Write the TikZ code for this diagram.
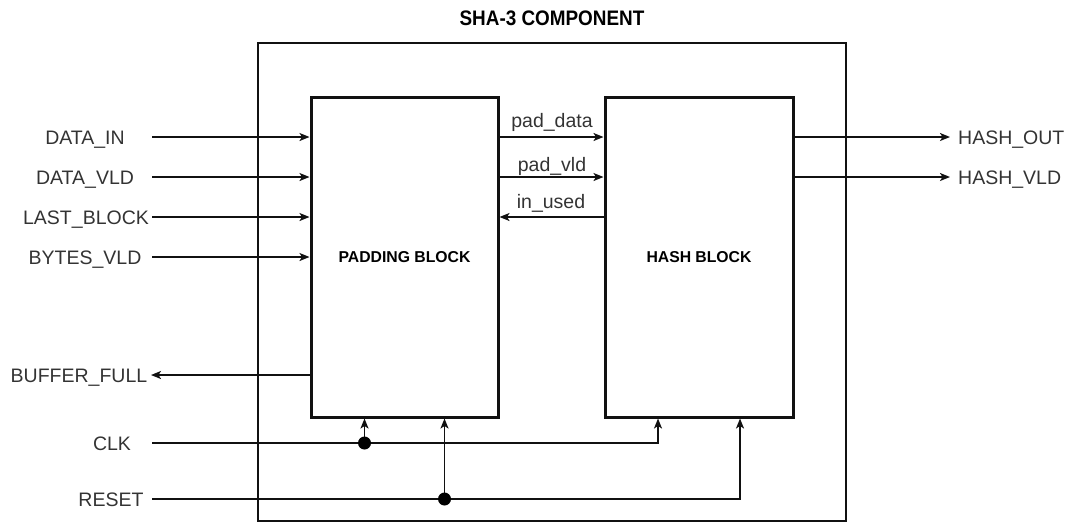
\documentclass[tikz,border=0pt]{standalone}
\usepackage{fontspec}
\setmainfont{Liberation Sans}
\usepackage{tikz}
\usepackage{xcolor}
\usetikzlibrary{
  positioning, arrows.meta, calc,
}
\definecolor{cText}{HTML}{333333}
\definecolor{cWire}{HTML}{111111}

\begin{document}
\begin{tikzpicture}[x=1pt, y=-1pt,
  blockbox/.style={draw=cWire, line width=3pt, minimum width=187pt, minimum height=320pt,
    font=\fontsize{15.75}{18}\selectfont\bfseries, inner sep=0pt},
  siglabel/.style={font=\fontsize{19.5}{22}\selectfont, text=cText, inner sep=0pt, anchor=base},
  wire/.style={line width=1.6pt, draw=cWire},
  sig/.style={wire, -{Stealth[length=10pt, width=8pt, inset=2.5pt]}},
  jdot/.style={circle, fill=black, inner sep=0pt, minimum size=13pt},
]
        \useasboundingbox (0,0) rectangle (1070,523);
        % component frame
        \node[draw=cWire, line width=2.5pt, minimum width=588pt, minimum height=478pt] (comp) at (552,282) {};
        \node[font=\fontsize{21}{24}\selectfont\bfseries, anchor=base] (title) at (552,25)
          {\scalebox{0.9}[1]{SHA-3 COMPONENT}};
        % blocks
        \node[blockbox] (pad) at (404.5,257) {PADDING BLOCK};
        \node[blockbox, minimum width=188pt] (hash) at (699,257) {HASH BLOCK};
        % inputs (left)
        \foreach \nm/\txt/\yy/\cx in {din/DATA\_IN/137/85, dvld/DATA\_VLD/177/85,
                                     last/LAST\_BLOCK/217/86, bvld/BYTES\_VLD/257/85} {
          \node[siglabel] (\nm) at (\cx,\yy+7) {\txt};
          \coordinate (\nm-w) at (152,\yy);
          \draw[sig] (\nm-w) -- (\nm-w -| pad.west);
        }
        \node[siglabel] (bfull) at (79,382) {BUFFER\_FULL};
        \coordinate (bfull-w) at (151,375);
        \draw[sig] (bfull-w -| pad.west) -- (bfull-w);
        % pad <-> hash
        \foreach \nm/\txt/\yy/\by in {pdata/pad\_data/137/127, pvld/pad\_vld/177/171} {
          \coordinate (\nm-y) at (552,\yy);
          \draw[sig] (\nm-y -| pad.east) -- (\nm-y -| hash.west);
          \node[siglabel] (\nm) at (552,\by) {\txt};
        }
        \coordinate (used-y) at (552,217);
        \draw[sig] (used-y -| hash.west) -- (used-y -| pad.east);
        \node[siglabel] (used) at (551,208) {in\_used};
        % outputs (right)
        \foreach \nm/\txt/\yy in {hout/HASH\_OUT/137, hvld/HASH\_VLD/177} {
          \node[siglabel, anchor=base west] (\nm) at (958,\yy+7) {\txt};
          \coordinate (\nm-e) at (950,\yy);
          \draw[sig] (\nm-e -| hash.east) -- (\nm-e);
        }
        % clock and reset
        \node[siglabel] (clk) at (112,450) {CLK};
        \node[siglabel] (rst) at (111,506) {RESET};
        \coordinate (clk-w) at (152,443);
        \coordinate (rst-w) at (152,499);
        \coordinate (clk-j) at ([xshift=-40pt]pad.south |- clk-w);
        \coordinate (rst-j) at ([xshift=40pt]pad.south |- rst-w);
        \draw[sig] (clk-w) -| ([xshift=-41pt]hash.south);
        \draw[sig] (rst-w) -| ([xshift=41pt]hash.south);
        \draw[sig] (clk-j) -- (clk-j |- pad.south);
        \draw[sig] (rst-j) -- (rst-j |- pad.south);
        \node[jdot] (clk-dot) at (clk-j) {};
        \node[jdot] (rst-dot) at (rst-j) {};
\end{tikzpicture}
\end{document}
